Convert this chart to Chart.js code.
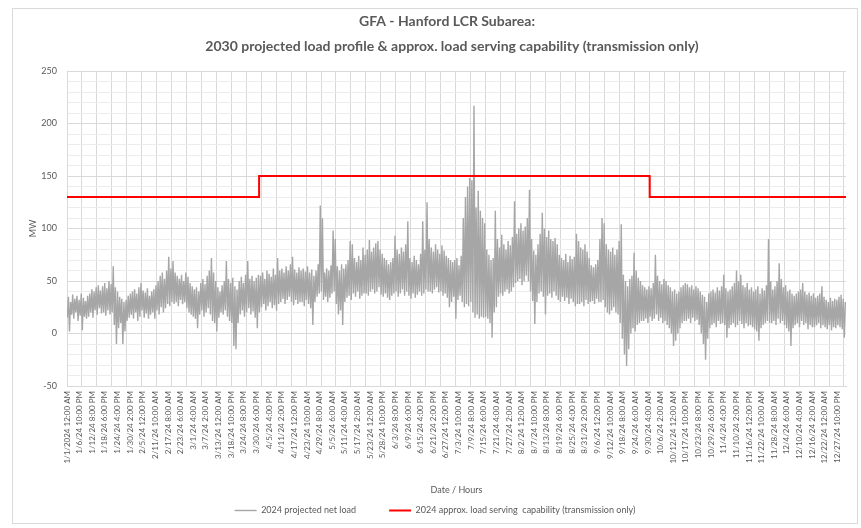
<!DOCTYPE html>
<html>
<head>
<meta charset="utf-8">
<script src="https://cdn.jsdelivr.net/npm/chart.js@4"></script>
<style>
  body { margin: 0; background: #fff; }
  #wrap { position: relative; width: 861px; height: 528px; }
</style>
</head>
<body>
<div id="wrap"><canvas id="loadChart"></canvas></div>
<script>
// daily peak / trough of the hourly net load (MW)
var dailyHigh = [
  35, 30, 37, 33, 36, 32, 38, 34, 31, 36,
  38, 42, 40, 44, 46, 41, 45, 48, 43, 50,
  47, 64, 44, 40, 35, 33, 30, 32, 36, 38,
  40, 42, 38, 44, 48, 41, 39, 43, 36, 40,
  42, 46, 50, 55, 58, 52, 60, 73, 62, 69,
  58, 55, 52, 56, 50, 58, 54, 48, 45, 42,
  44, 40, 48, 52, 47, 55, 60, 72, 58, 50,
  44, 40, 46, 50, 69, 52, 48, 53, 45, 42,
  50, 54, 48, 56, 69, 52, 55, 50, 53, 56,
  55, 58, 52, 60, 57, 54, 62, 56, 72, 60,
  62, 58, 64, 60, 66, 73, 61, 58, 63, 60,
  62, 59, 64, 58, 61, 55, 60, 66, 122, 110,
  58, 62, 60, 65, 98, 90, 64, 60, 66, 62,
  66, 70, 88, 85, 72, 68, 74, 70, 82, 75,
  80, 89, 78, 82, 86, 88, 80, 76, 72, 70,
  66, 68, 72, 93, 80, 76, 82, 78, 85, 107,
  72, 68, 74, 70, 66, 76, 107, 80, 125, 90,
  82, 78, 85, 80, 76, 84, 79, 74, 72, 70,
  68, 70, 72, 65, 74, 110, 130, 140, 148, 146,
  217, 120, 136, 117, 110, 105, 80, 75, 70, 72,
  117, 90, 82, 94, 85, 80, 88, 84, 92, 126,
  95, 100, 105, 98, 102, 110, 137, 90, 79, 75,
  85, 95, 115, 100, 92, 98, 90, 88, 91, 85,
  75, 72, 70, 76, 68, 74, 71, 73, 95, 88,
  82, 80, 85, 78, 72, 65, 63, 66, 70, 90,
  110, 105, 85, 80, 78, 82, 75, 80, 88, 104,
  56, 50, 45, 52, 55, 77, 60, 53, 50, 46,
  44, 42, 45, 43, 48, 75, 55, 50, 47, 52,
  50, 46, 44, 40, 42, 38, 40, 44, 46, 48,
  47, 44, 46, 42, 45, 43, 40, 37, 35, 30,
  38, 40, 42, 39, 44, 41, 45, 56, 43, 40,
  42, 45, 48, 60, 50, 56, 46, 44, 48, 42,
  44, 40, 42, 45, 38, 43, 41, 46, 90, 50,
  42, 45, 50, 67, 52, 44, 46, 40, 42, 38,
  36, 38, 40, 42, 48, 40, 37, 39, 36, 38,
  34, 36, 38, 45, 35, 32, 30, 34, 31, 33,
  32, 35, 37, 33, 30
];
var dailyLow = [
  15, 2, 18, 14, 20, 12, 17, 3, 16, 14,
  16, 20, 15, 22, 18, 24, 19, 20, 17, 22,
  18, 20, 8, -10, 5, 10, -10, 2, 12, 15,
  18, 14, 20, 12, 16, 22, 15, 19, 14, 18,
  20, 14, 22, 18, 25, 20, 24, 28, 26, 30,
  28, 30, 26, 32, 28, 30, 24, 20, 18, 16,
  14, 5, 18, 22, 16, 20, 24, 18, 12, 10,
  2, 15, 20, 18, 22, 16, 12, 10, -12, -15,
  10, 18, 22, 16, 20, 24, 18, 21, 15, 5,
  20, 25, 28, 22, 26, 30, 24, 27, 22, 28,
  30, 33, 28, 32, 35, 30, 27, 32, 28, 30,
  30, 26, 32, 28, 24, 8, 30, 35, 38, 40,
  32, 35, 30, 34, 38, 40, 28, 18, 22, 8,
  30, 34, 36, 32, 38, 35, 40, 33, 36, 38,
  38, 36, 40, 42, 38, 40, 44, 37, 35, 38,
  34, 32, 36, 38, 40, 35, 38, 42, 36, 40,
  36, 33, 38, 34, 37, 40, 36, 38, 42, 40,
  40, 38, 42, 44, 39, 40, 36, 38, 34, 25,
  30, 35, 14, 32, 36, 30, 25, 28, 26, 30,
  20, 15, 18, 14, 16, 15, 16, 14, 10, -4,
  20, 25, 35, 38, 36, 40, 42, 38, 40, 44,
  48, 50, 52, 46, 50, 55, 50, 40, 31, 9,
  30, 38, 40, 35, 18, 36, 38, 34, 40, 36,
  32, 30, 35, 31, 34, 28, 33, 30, 26, 28,
  28, 30, 26, 32, 28, 30, 31, 28, 33, 30,
  30, 32, 25, 20, 18, 22, 25, 20, 18, 10,
  -5, -20, -31, -15, 0, 5, 2, 8, 10, 12,
  12, 14, 10, 16, 12, 14, 18, 12, 15, 10,
  12, 8, 5, 0, -12, -7, 0, 5, 10, 12,
  12, 14, 10, 15, 12, 13, 8, 0, -10, -25,
  -5, 5, 8, 10, 6, 12, 9, 10, 8, -4,
  5, 8, 10, 6, 8, 12, 9, 5, 10, 7,
  8, 6, 4, 2, -7, 5, 8, 10, 12, 10,
  10, 12, 8, 14, 10, 12, 8, 5, 2, -12,
  5, 8, 10, 6, 12, 8, 10, 4, 8, 6,
  6, 8, 10, 5, 8, 6, 4, 8, 3, 6,
  5, 8, 6, 4, -4
];

// load serving capability: hour of year -> MW
var capabilityHours = [0, 2159, 2160, 6551, 6552, 8759];
var capabilityMW = [130, 130, 150, 150, 130, 130];

var tickLabels = [
  '1/1/2024 12:00 AM', '1/6/24 10:00 PM', '1/12/24 8:00 PM', '1/18/24 6:00 PM', '1/24/24 4:00 PM',
  '1/30/24 2:00 PM', '2/5/24 12:00 PM', '2/11/24 10:00 AM', '2/17/24 8:00 AM', '2/23/24 6:00 AM',
  '3/1/24 4:00 AM', '3/7/24 2:00 AM', '3/13/24 12:00 AM', '3/18/24 10:00 PM', '3/24/24 8:00 PM',
  '3/30/24 6:00 PM', '4/5/24 4:00 PM', '4/11/24 2:00 PM', '4/17/24 12:00 PM', '4/23/24 10:00 AM',
  '4/29/24 8:00 AM', '5/5/24 6:00 AM', '5/11/24 4:00 AM', '5/17/24 2:00 AM', '5/23/24 12:00 AM',
  '5/28/24 10:00 PM', '6/3/24 8:00 PM', '6/9/24 6:00 PM', '6/15/24 4:00 PM', '6/21/24 2:00 PM',
  '6/27/24 12:00 PM', '7/3/24 10:00 AM', '7/9/24 8:00 AM', '7/15/24 6:00 AM', '7/21/24 4:00 AM',
  '7/27/24 2:00 AM', '8/2/24 12:00 AM', '8/7/24 10:00 PM', '8/13/24 8:00 PM', '8/19/24 6:00 PM',
  '8/25/24 4:00 PM', '8/31/24 2:00 PM', '9/6/24 12:00 PM', '9/12/24 10:00 AM', '9/18/24 8:00 AM',
  '9/24/24 6:00 AM', '9/30/24 4:00 AM', '10/6/24 2:00 AM', '10/12/24 12:00 AM', '10/17/24 10:00 PM',
  '10/23/24 8:00 PM', '10/29/24 6:00 PM', '11/4/24 4:00 PM', '11/10/24 2:00 PM', '11/16/24 12:00 PM',
  '11/22/24 10:00 AM', '11/28/24 8:00 AM', '12/4/24 6:00 AM', '12/10/24 4:00 AM', '12/16/24 2:00 AM',
  '12/22/24 12:00 AM', '12/27/24 10:00 PM'
];
var titleLines = ['GFA - Hanford LCR Subarea:', '2030 projected load profile & approx. load serving capability (transmission only)'];
var labelStep = 142;   // hours between axis labels
var gridStep = 168;    // hours between vertical gridlines

// hourly profile drawn as trough/peak of each day
var loadPoints = [];
for (var d = 0; d < dailyHigh.length; d++) {
  loadPoints.push({ x: d * 24 + 4, y: dailyLow[d] });
  loadPoints.push({ x: d * 24 + 16, y: dailyHigh[d] });
}
var capPoints = capabilityHours.map(function (h, i) { return { x: h, y: capabilityMW[i] }; });

var txt = '#595959';
var smallFont = { family: 'Lato', size: 9 };

// white background, outer frame and the two-line title (centred like the Excel one)
var framePlugin = {
  id: 'frame',
  beforeDraw: function (chart) {
    var c = chart.ctx;
    c.save();
    c.fillStyle = '#fff';
    c.fillRect(0, 0, chart.width, chart.height);
    c.strokeStyle = '#d9d9d9';
    c.lineWidth = 1;
    c.strokeRect(12.5, 8.5, 845, 515);
    c.fillStyle = txt;
    c.font = 'bold 14px Lato';
    c.textAlign = 'center';
    c.textBaseline = 'middle';
    c.fillText(titleLines[0], 447, 21);
    c.fillText(titleLines[1], 452, 46);
    c.restore();
  }
};

new Chart(document.getElementById('loadChart'), {
  type: 'line',
  data: {
    datasets: [{
      label: '2024 projected net load',
      data: loadPoints,
      borderColor: '#a6a6a6',
      backgroundColor: '#a6a6a6',
      borderWidth: 1.4,
      pointRadius: 0,
      tension: 0,
      order: 2
    }, {
      label: '2024 approx. load serving  capability (transmission only)',
      data: capPoints,
      borderColor: '#ff0000',
      backgroundColor: '#ff0000',
      borderWidth: 2,
      pointRadius: 0,
      tension: 0,
      order: 1
    }]
  },
  options: {
    responsive: true,
    maintainAspectRatio: false,
    animation: false,
    layout: { padding: { left: 24, right: 15, top: 71, bottom: 3 } },
    plugins: {
      title: { display: false },
      legend: {
        position: 'bottom',
        labels: {
          color: txt,
          font: smallFont,
          usePointStyle: true,
          pointStyle: 'line',
          pointStyleWidth: 22,
          padding: 10,
          sort: function (a, b) { return a.datasetIndex - b.datasetIndex; },
          generateLabels: function (chart) {
            var items = Chart.defaults.plugins.legend.labels.generateLabels(chart);
            // wider gap after the net load entry, as in the Excel legend
            items.forEach(function (it) {
              if (it.datasetIndex === 0) it.text = it.text + '          ';
            });
            return items;
          }
        }
      },
      tooltip: { enabled: false }
    },
    scales: {
      x: {
        type: 'linear',
        min: 0,
        max: 8759,
        afterBuildTicks: function (scale) {
          scale.ticks = tickLabels.map(function (t, i) { return { value: i * labelStep }; });
        },
        afterFit: function (scale) { scale.height = 110; },
        ticks: {
          autoSkip: false,
          minRotation: 90,
          maxRotation: 90,
          padding: 5,
          color: txt,
          font: { family: 'Lato', size: 8 },
          callback: function (v, i) { return tickLabels[i]; }
        },
        grid: { display: false, drawTicks: false },
        border: { display: true, color: '#d9d9d9' },
        title: {
          display: true,
          text: 'Date / Hours',
          color: txt,
          font: smallFont,
          padding: { top: 0, bottom: 1 }
        }
      },
      xg: {
        type: 'linear',
        position: 'top',
        min: 0,
        max: 8759,
        afterBuildTicks: function (scale) {
          var t = [];
          for (var h = 0; h <= 8759; h += gridStep) t.push({ value: h });
          scale.ticks = t;
        },
        ticks: { display: false },
        grid: { color: '#d9d9d9', drawTicks: false },
        border: { display: false }
      },
      y: {
        min: -50,
        max: 250,
        afterFit: function (scale) { scale.width = 43; },
        ticks: {
          stepSize: 10,
          autoSkip: false,
          padding: 10,
          color: txt,
          font: smallFont,
          callback: function (v) { return v % 50 === 0 ? v : ''; }
        },
        grid: {
          drawTicks: false,
          color: function (ctx) { return ctx.tick && ctx.tick.value % 50 === 0 ? '#d9d9d9' : '#ececec'; }
        },
        border: { display: true, color: '#d9d9d9' },
        title: {
          display: true,
          text: 'MW',
          color: txt,
          font: smallFont,
          padding: { top: 4, bottom: 0 }
        }
      }
    }
  },
  plugins: [framePlugin]
});
</script>
</body>
</html>
